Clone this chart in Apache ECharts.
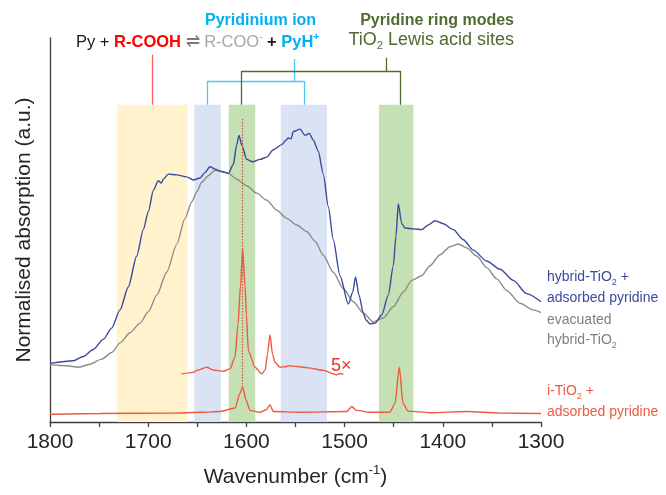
<!DOCTYPE html>
<html>
<head>
<meta charset="utf-8">
<script src="https://cdn.jsdelivr.net/npm/echarts@6/dist/echarts.min.js"></script>
<style>
  html, body { margin: 0; padding: 0; background: #ffffff; }
  #chart { width: 666px; height: 495px; }
</style>
</head>
<body>
<div id="chart"></div>
<script>
// ---- Spectra (wavenumber in cm-1, normalised absorption in a.u.) ----
const hybridWn = [1800, 1776.3, 1766.1, 1755.9, 1745.7, 1737.2, 1728.7, 1720.3, 1711.7, 1705.0, 1699.9, 1694.8, 1689.7, 1686.5, 1684.6, 1679.5, 1671.0, 1660.8, 1654.1, 1647.3, 1642.2, 1637.1, 1632.0, 1625.2, 1618.4, 1613.3, 1609.9, 1607.5, 1604.8, 1599.7, 1593.6, 1586.1, 1579.3, 1572.6, 1564.0, 1560.0, 1557.3, 1554.5, 1552.2, 1545.4, 1540.3, 1535.9, 1531.9, 1526.8, 1521.7, 1516.6, 1511.5, 1504.7, 1496.2, 1491.7, 1488.9, 1485.3, 1481.0, 1478.2, 1474.1, 1469.0, 1462.2, 1455.5, 1450.4, 1447.7, 1445.3, 1441.9, 1438.5, 1430.0, 1421.5, 1414.8, 1407.9, 1399.5, 1389.3, 1379.1, 1368.9, 1355.3, 1341.8, 1328.2, 1314.6, 1300];
const hybridAbs = [16.1, 16.8, 17.9, 19.7, 22.3, 25.2, 29.9, 35.8, 43.8, 50.6, 55.2, 60.7, 63.2, 62.6, 63.6, 64.9, 64.7, 64.2, 63.4, 63.9, 65.3, 66.8, 66.2, 65.6, 65.1, 67.4, 72.5, 74.9, 72.5, 68.7, 68.1, 68.7, 69.3, 71.2, 72.5, 73.6, 74.2, 74.0, 75.9, 76.5, 74.9, 75.4, 73.7, 70.8, 64.9, 56.5, 48.0, 38.7, 31.4, 34.5, 38.4, 33.7, 29.1, 27.3, 26.3, 26.5, 28.6, 33.7, 41.3, 48.9, 57.3, 52.2, 51.0, 50.8, 50.6, 51.8, 52.9, 52.1, 50.6, 48.0, 45.3, 42.5, 40.4, 37.5, 34.1, 32.0];

const evacWn = [1800, 1783.0, 1771.2, 1759.3, 1747.4, 1737.2, 1728.7, 1718.5, 1708.3, 1699.9, 1691.3, 1681.2, 1671.0, 1662.5, 1655.7, 1650.6, 1645.5, 1638.8, 1632.0, 1625.2, 1618.4, 1609.9, 1599.7, 1589.5, 1579.3, 1569.1, 1558.9, 1548.8, 1538.6, 1530.1, 1521.7, 1511.5, 1501.3, 1491.1, 1481.0, 1470.8, 1460.6, 1450.4, 1440.2, 1431.7, 1421.5, 1413.0, 1402.9, 1392.7, 1384.2, 1375.7, 1365.5, 1355.3, 1345.1, 1334.9, 1321.4, 1307.8, 1300];
const evacAbs = [15.8, 15.5, 15.1, 15.9, 17.2, 18.9, 21.4, 24.0, 26.5, 29.4, 33.7, 39.6, 46.8, 53.5, 57.7, 60.3, 62.8, 64.5, 65.9, 65.6, 65.1, 63.6, 61.9, 60.0, 58.2, 55.6, 53.5, 51.8, 50.1, 47.6, 44.0, 39.6, 35.4, 32.0, 29.1, 26.8, 27.8, 30.7, 34.5, 37.5, 38.7, 41.3, 44.1, 46.2, 46.9, 45.9, 43.8, 40.8, 37.9, 34.9, 31.6, 29.9, 29.2];

const iTiO2Wn = [1800, 1749, 1677.8, 1644.2, 1626.9, 1611.6, 1606.5, 1603.8, 1600.4, 1596.3, 1586.1, 1580.0, 1576.0, 1572.6, 1545.4, 1497.9, 1492.8, 1487.9, 1474.1, 1453.8, 1448.7, 1444.3, 1440.5, 1435.4, 1413.0, 1375.7, 1341.8, 1300];
const iTiO2Abs = [3.0, 3.2, 3.3, 3.5, 3.7, 4.6, 8.4, 10.0, 6.7, 4.0, 3.5, 4.1, 5.4, 3.7, 3.5, 3.7, 5.0, 4.0, 3.5, 3.5, 5.8, 15.1, 5.8, 3.8, 3.4, 3.7, 3.3, 3.2];

// i-TiO2 spectrum magnified 5x (offset upward)
const iTiO2x5Wn = [1665.9, 1654.1, 1650.6, 1640.4, 1633.7, 1623.5, 1616.7, 1611.6, 1608.6, 1606.0, 1603.8, 1601.4, 1600.0, 1598.0, 1591.2, 1584.4, 1581.0, 1578.5, 1576.0, 1573.4, 1570.9, 1565.8, 1559.0, 1557.3, 1548.8, 1535.2, 1521.7, 1508.0, 1504.7, 1501.3];
const iTiO2x5Abs = [13.4, 13.8, 14.3, 15.1, 14.4, 14.1, 14.7, 17.7, 26.1, 36.2, 45.6, 36.2, 28.6, 19.3, 15.1, 13.4, 14.3, 18.5, 23.5, 18.5, 16.4, 15.1, 15.3, 15.5, 15.3, 14.9, 14.3, 13.2, 13.5, 13.3];

// Highlighted absorption regions (cm-1)
const bandFrom = [1732, 1653, 1618, 1565, 1465];
const bandTo   = [1660, 1626, 1591, 1518, 1430];
const bandKind = ['acid', 'pyridinium', 'lewis', 'pyridinium', 'lewis'];

const xTicks = [1800, 1700, 1600, 1500, 1400, 1300];

const zip = (xs, ys) => xs.map((x, i) => [x, ys[i]]);

const bandColors = { acid: '#FFF2CC', pyridinium: '#DAE3F3', lewis: '#C5E0B4' };
const bandTop = 82.8;

const chart = echarts.init(document.getElementById('chart'), null, { renderer: 'canvas' });

const FONT = 'Liberation Sans, Arial, sans-serif';
const RED = '#FF0000', SKY = '#00B0F0', GREEN = '#4F6B30';
const BLUE = '#3B4A9C', GREY = '#8C8C8C', ORANGE = '#EE5A3E';

// bracket segment between two points given in data coordinates
const connector = (a, b, color) => [
  { coord: a, lineStyle: { color, width: 1.3, type: 'solid' } },
  { coord: b }
];

const option = {
  animation: false,
  backgroundColor: '#ffffff',
  textStyle: { fontFamily: FONT },
  grid: { left: 50, right: 125, top: 38, bottom: 65 },
  xAxis: {
    type: 'value', min: 1300, max: 1800, interval: 100, inverse: true,
    name: 'Wavenumber (cm{sup|-1})', nameLocation: 'middle', nameGap: 42,
    nameTextStyle: {
      fontFamily: FONT, fontSize: 21, color: '#262626', lineHeight: 26,
      rich: { sup: { fontSize: 13, color: '#262626', verticalAlign: 'top', lineHeight: 26, fontFamily: FONT } }
    },
    axisLine: { show: true, lineStyle: { color: '#404040', width: 1.3 } },
    axisTick: { show: true, inside: false, length: 5, lineStyle: { color: '#404040', width: 1.3 } },
    minorTick: { show: true, splitNumber: 2, length: 5, lineStyle: { color: '#404040', width: 1.3 } },
    axisLabel: {
      fontFamily: FONT, fontSize: 21, color: '#262626', margin: 10,
      formatter: v => (xTicks.indexOf(v) >= 0 ? String(v) : '')
    },
    splitLine: { show: false }
  },
  yAxis: {
    type: 'value', min: 1, max: 100,
    name: 'Normalised absorption (a.u.)', nameLocation: 'middle', nameGap: 15,
    nameTextStyle: { fontFamily: FONT, fontSize: 21, color: '#262626' },
    axisLine: { show: true, lineStyle: { color: '#404040', width: 1.3 } },
    axisTick: { show: false }, axisLabel: { show: false }, splitLine: { show: false }
  },
  series: [
    {
      name: 'bands', type: 'line', data: [], z: 1, silent: true,
      markArea: {
        silent: true,
        data: bandFrom.map((f, i) => [
          { coord: [f, 1], itemStyle: { color: bandColors[bandKind[i]], opacity: 1 } },
          { coord: [bandTo[i], bandTop] }
        ])
      }
    },
    {
      name: 'connectors', type: 'line', data: [], z: 2, silent: true,
      markLine: {
        silent: true, symbol: ['none', 'none'], label: { show: false },
        data: [
          connector([1696, 95.7], [1696, bandTop], '#FF5A5A'),
          connector([1551.5, 94.6], [1551.5, 88.9], '#4FC6F2'),
          connector([1640, 88.9], [1541.5, 88.9], '#4FC6F2'),
          connector([1640, 88.9], [1640, bandTop], '#4FC6F2'),
          connector([1541.5, 88.9], [1541.5, bandTop], '#4FC6F2'),
          connector([1458, 94.9], [1458, 91.5], GREEN),
          connector([1604.8, 91.5], [1443, 91.5], GREEN),
          connector([1604.8, 91.5], [1604.8, bandTop], GREEN),
          connector([1443, 91.5], [1443, bandTop], GREEN)
        ]
      }
    },
    {
      name: 'evacuated hybrid-TiO2', type: 'line', z: 3, data: zip(evacWn, evacAbs),
      showSymbol: false, smooth: 0.25, smoothMonotone: 'x',
      lineStyle: { color: GREY, width: 1.4 }
    },
    {
      name: 'hybrid-TiO2 + adsorbed pyridine', type: 'line', z: 4, data: zip(hybridWn, hybridAbs),
      showSymbol: false, smooth: 0.25, smoothMonotone: 'x',
      lineStyle: { color: BLUE, width: 1.4 }
    },
    {
      name: 'i-TiO2 + adsorbed pyridine', type: 'line', z: 4, data: zip(iTiO2Wn, iTiO2Abs),
      showSymbol: false, smooth: 0.25, smoothMonotone: 'x',
      lineStyle: { color: ORANGE, width: 1.4 },
      markLine: {
        silent: true, symbol: ['none', 'none'], label: { show: false },
        lineStyle: { color: '#D2552F', width: 1.2, type: [1.5, 1.5] },
        data: [[{ coord: [1603.8, 79.1] }, { coord: [1603.8, 10.0] }]]
      }
    },
    {
      name: 'i-TiO2 x5', type: 'line', z: 4, data: zip(iTiO2x5Wn, iTiO2x5Abs),
      showSymbol: false, smooth: 0.25, smoothMonotone: 'x',
      lineStyle: { color: ORANGE, width: 1.4 }
    }
  ],
  graphic: [
    { type: 'text', left: 205, top: 13, style: { text: 'Pyridinium ion', fill: SKY, font: 'bold 16px ' + FONT } },
    { type: 'text', right: 152, top: 13, style: { text: 'Pyridine ring modes', fill: GREEN, font: 'bold 16px ' + FONT } },
    {
      type: 'text', left: 76, top: 32,
      style: {
        text: '{n|Py + }{r|R-COOH}{e| ⇌ }{g|R-COO}{gs|-}{b| + }{p|PyH}{ps|+}',
        rich: {
          n: { fontSize: 16.5, fill: '#1A1A1A', fontFamily: FONT, lineHeight: 20 },
          r: { fontSize: 16.5, fill: RED, fontWeight: 'bold', fontFamily: FONT, lineHeight: 20 },
          e: { fontSize: 16.5, fill: '#7A7A7A', fontFamily: FONT, lineHeight: 20 },
          g: { fontSize: 16.5, fill: '#A6A6A6', fontFamily: FONT, lineHeight: 20 },
          gs: { fontSize: 10, fill: '#A6A6A6', fontFamily: FONT, verticalAlign: 'top', lineHeight: 20 },
          b: { fontSize: 16.5, fill: '#1A1A1A', fontWeight: 'bold', fontFamily: FONT, lineHeight: 20 },
          p: { fontSize: 16.5, fill: SKY, fontWeight: 'bold', fontFamily: FONT, lineHeight: 20 },
          ps: { fontSize: 10, fill: SKY, fontWeight: 'bold', fontFamily: FONT, verticalAlign: 'top', lineHeight: 20 }
        }
      }
    },
    {
      type: 'text', right: 152, top: 31,
      style: {
        text: '{t|TiO}{s|2}{t| Lewis acid sites}',
        rich: {
          t: { fontSize: 18, fill: GREEN, fontFamily: FONT, lineHeight: 22 },
          s: { fontSize: 11, fill: GREEN, fontFamily: FONT, verticalAlign: 'bottom', lineHeight: 22 }
        }
      }
    },
    { type: 'text', left: 331, top: 357, style: { text: '5×', fill: '#F0302A', font: '18px ' + FONT } },
    {
      type: 'text', left: 547, top: 270,
      style: {
        text: '{t|hybrid-TiO}{s|2}{t| +}\n{t|adsorbed pyridine}',
        rich: {
          t: { fontSize: 14, fill: BLUE, fontFamily: FONT, lineHeight: 21 },
          s: { fontSize: 9, fill: BLUE, fontFamily: FONT, verticalAlign: 'bottom', lineHeight: 19 }
        }
      }
    },
    {
      type: 'text', left: 547, top: 313,
      style: {
        text: '{t|evacuated}\n{t|hybrid-TiO}{s|2}',
        rich: {
          t: { fontSize: 14, fill: '#808080', fontFamily: FONT, lineHeight: 20 },
          s: { fontSize: 9, fill: '#808080', fontFamily: FONT, verticalAlign: 'bottom', lineHeight: 18 }
        }
      }
    },
    {
      type: 'text', left: 547, top: 384,
      style: {
        text: '{t|i-TiO}{s|2}{t| +}\n{t|adsorbed pyridine}',
        rich: {
          t: { fontSize: 14, fill: ORANGE, fontFamily: FONT, lineHeight: 21 },
          s: { fontSize: 9, fill: ORANGE, fontFamily: FONT, verticalAlign: 'bottom', lineHeight: 19 }
        }
      }
    }
  ]
};

chart.setOption(option);
</script>
</body>
</html>
